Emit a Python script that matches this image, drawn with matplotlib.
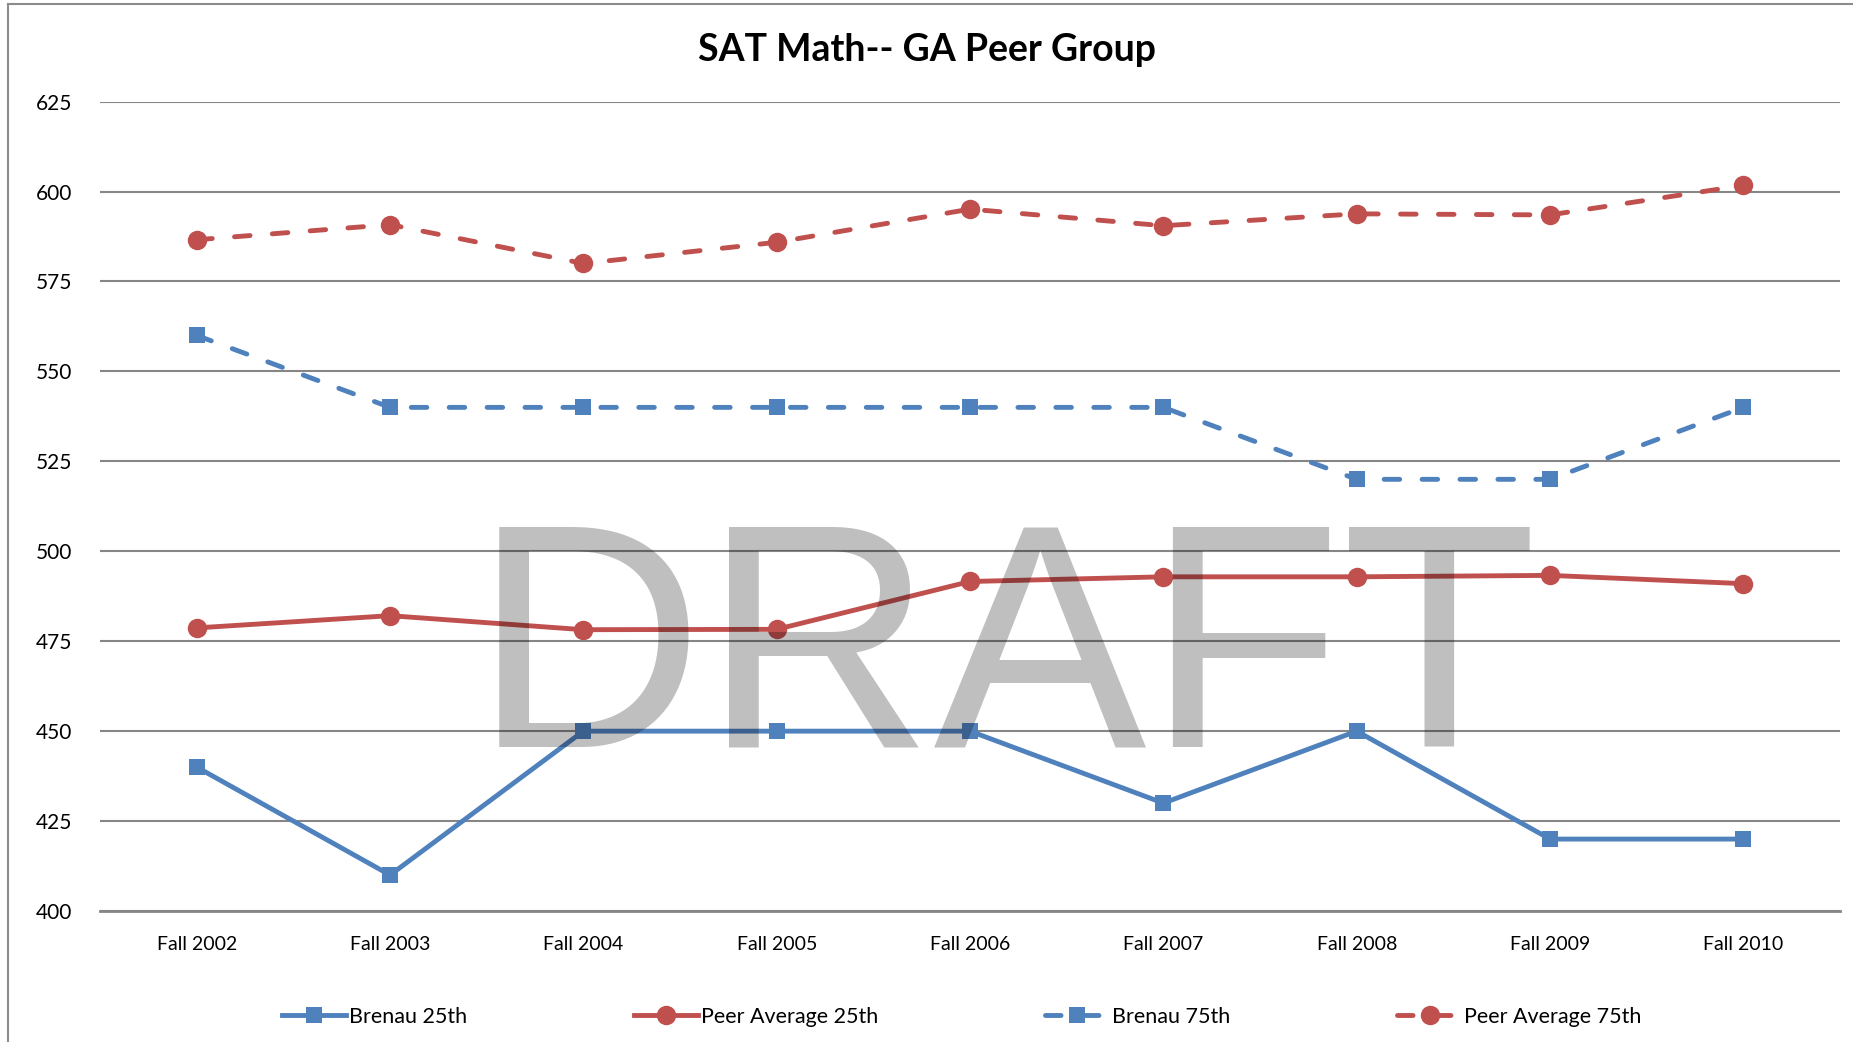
import matplotlib
matplotlib.use("Agg")
import matplotlib.pyplot as plt
from matplotlib.lines import Line2D

plt.rcParams['font.family'] = ['Lato', 'DejaVu Sans']

categories = ["Fall 2002", "Fall 2003", "Fall 2004", "Fall 2005", "Fall 2006",
              "Fall 2007", "Fall 2008", "Fall 2009", "Fall 2010"]
brenau_25 = [440, 410, 450, 450, 450, 430, 450, 420, 420]
peer_25 = [478.7, 482.1, 478.2, 478.3, 491.6, 492.9, 492.9, 493.3, 491.0]
brenau_75 = [560, 540, 540, 540, 540, 540, 520, 520, 540]
peer_75 = [586.6, 590.8, 580.0, 585.9, 595.1, 590.5, 593.8, 593.5, 601.7]
yticks = [400, 425, 450, 475, 500, 525, 550, 575, 600, 625]

blue = "#4F81BD"
red = "#C0504D"
grid_c = "#868686"

fig = plt.figure(figsize=(18.53, 10.42), dpi=100)
ax = fig.add_axes([0.054, 0.1257, 0.939, 0.7768])

x = list(range(len(categories)))
lw = 3.5
dash = (0, (3.2, 4.6))
series = [
    ("Brenau 25th", brenau_25, blue, 's', 12, '-'),
    ("Peer Average 25th", peer_25, red, 'o', 14, '-'),
    ("Brenau 75th", brenau_75, blue, 's', 12, dash),
    ("Peer Average 75th", peer_75, red, 'o', 14, dash),
]
handles = []
for name, vals, col, mk, ms, ls in series:
    h, = ax.plot(x, vals, color=col, lw=lw, linestyle=ls, marker=mk, markersize=ms,
                 markeredgewidth=0, dash_capstyle='round', solid_joinstyle='miter',
                 label=name, zorder=3)
    handles.append(h)

ax.set_xlim(-0.5, len(categories) - 0.5)
ax.set_ylim(400, 625)
ax.set_yticks(yticks)
ax.set_xticks(x)
ax.set_xticklabels(categories)
ax.tick_params(axis='x', length=0, labelsize=14, colors='black', pad=18)
ax.tick_params(axis='y', length=0, labelsize=15, colors='black', pad=20)
ax.grid(axis='y', color=grid_c, lw=1.5, zorder=0)
for s in ['top', 'right', 'left']:
    ax.spines[s].set_visible(False)
ax.spines['bottom'].set_color(grid_c)
ax.spines['bottom'].set_linewidth(2)
ax.set_axisbelow(True)

fig.text(0.5, 1 - 50 / 1042, "SAT Math-- GA Peer Group", ha='center', va='center',
         fontsize=27, fontweight='bold')

# watermark
fig.text(1005 / 1853, 1 - 664 / 1042, "DRAFT", ha='center', va='center',
         fontsize=230, family='Liberation Sans', color='black', alpha=0.25, zorder=10)

# chart border
fig.add_artist(Line2D([8 / 1853, 8 / 1853], [0, 1 - 3.5 / 1042], color='#8c8c8c', lw=1.5,
                      transform=fig.transFigure))
fig.add_artist(Line2D([8 / 1853, 1], [1 - 3.5 / 1042, 1 - 3.5 / 1042], color='#8c8c8c', lw=1.5,
                      transform=fig.transFigure))

fig.legend(handles=handles, loc='center', bbox_to_anchor=(0.519, 1 - 1017 / 1042),
           ncol=4, frameon=False, fontsize=15.5, handlelength=3.0, handletextpad=0.12,
           columnspacing=7.75)

fig.savefig("out.png", dpi=100)
